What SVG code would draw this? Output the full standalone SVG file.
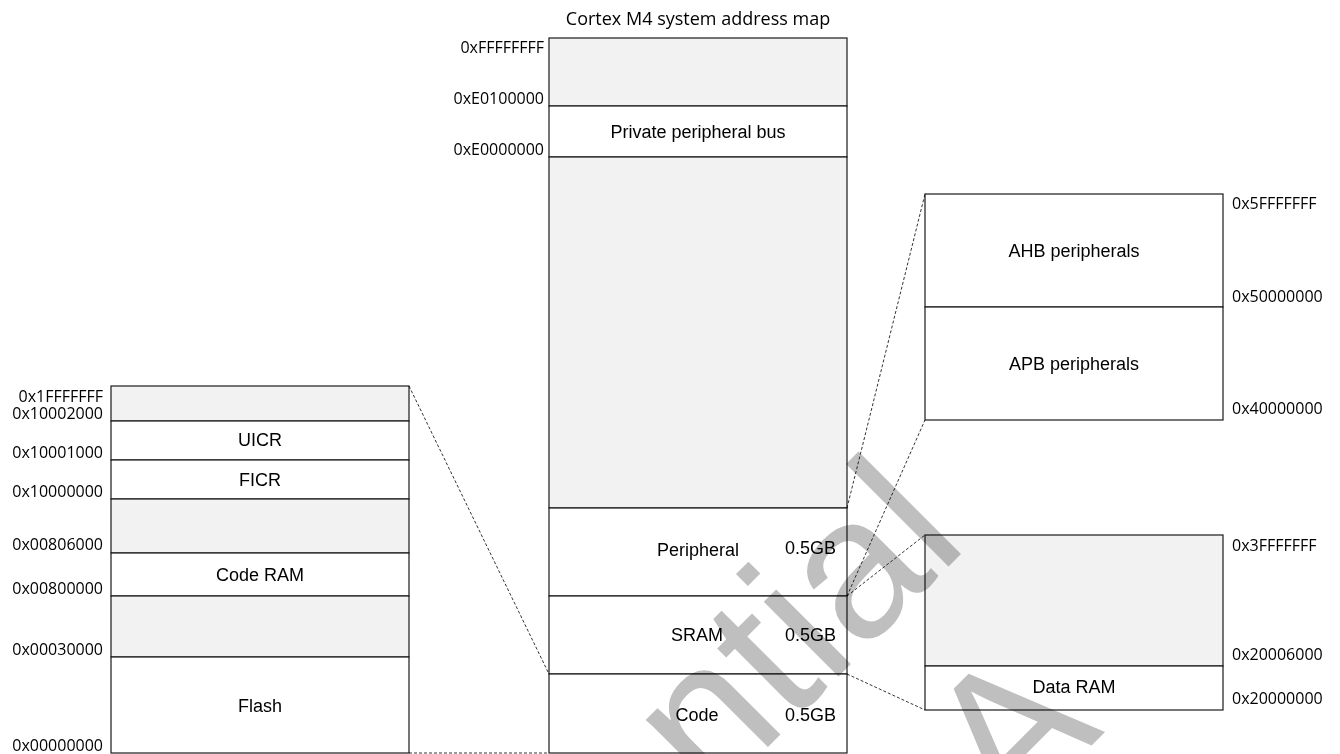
<svg xmlns="http://www.w3.org/2000/svg" width="1340" height="754" viewBox="0 0 1340 754">
<style>
.w{fill:#FFFFFF;stroke:#1a1a1a;stroke-width:1.2}
.g{fill:#F2F2F2;stroke:#1a1a1a;stroke-width:1.2}
.lbl{font-family:"Liberation Sans",Arial,sans-serif;font-size:18px;fill:#000;text-anchor:middle}
.sz{font-family:"Liberation Sans",Arial,sans-serif;font-size:18px;fill:#000;text-anchor:end}
.addr{font-family:"Open Sans","Noto Sans",sans-serif;font-size:16px;fill:#000}
.ae{text-anchor:end}
.title{font-family:"Open Sans","Noto Sans",sans-serif;font-size:18px;fill:#000;text-anchor:middle}
.conn{stroke:#000;stroke-width:0.8;stroke-dasharray:3 2;fill:none}
.wm{font-family:"Liberation Sans",Arial,sans-serif;font-size:200px;fill:#BFBFBF}
</style>
<rect x="0" y="0" width="1340" height="754" fill="#FFFFFF"/>
<text class="title" x="698" y="25">Cortex M4 system address map</text>

<g id="system-map">
  <g id="sys-top"><rect class="g" x="549" y="38" width="298" height="68"/></g>
  <g id="sys-ppb"><rect class="w" x="549" y="106" width="298" height="51"/><text class="lbl" x="698" y="138">Private peripheral bus</text></g>
  <g id="sys-mid"><rect class="g" x="549" y="157" width="298" height="351"/></g>
  <g id="sys-peripheral"><rect class="w" x="549" y="508" width="298" height="88"/><text class="lbl" x="698" y="556">Peripheral</text><text class="sz" x="836" y="554">0.5GB</text></g>
  <g id="sys-sram"><rect class="w" x="549" y="596" width="298" height="78"/><text class="lbl" x="697" y="641">SRAM</text><text class="sz" x="836" y="641">0.5GB</text></g>
  <g id="sys-code"><rect class="w" x="549" y="674" width="298" height="79"/><text class="lbl" x="697" y="721">Code</text><text class="sz" x="836" y="721">0.5GB</text></g>
  <g id="sys-addr">
    <text class="addr ae" x="544" y="53">0xFFFFFFFF</text>
    <text class="addr ae" x="544" y="104">0xE0100000</text>
    <text class="addr ae" x="544" y="155">0xE0000000</text>
  </g>
</g>

<g id="code-map">
  <g id="code-top"><rect class="g" x="111" y="386" width="298" height="35"/></g>
  <g id="code-uicr"><rect class="w" x="111" y="421" width="298" height="39"/><text class="lbl" x="260" y="446">UICR</text></g>
  <g id="code-ficr"><rect class="w" x="111" y="460" width="298" height="39"/><text class="lbl" x="260" y="486">FICR</text></g>
  <g id="code-gap1"><rect class="g" x="111" y="499" width="298" height="54"/></g>
  <g id="code-ram"><rect class="w" x="111" y="553" width="298" height="43"/><text class="lbl" x="260" y="581">Code RAM</text></g>
  <g id="code-gap2"><rect class="g" x="111" y="596" width="298" height="61"/></g>
  <g id="code-flash"><rect class="w" x="111" y="657" width="298" height="96"/><text class="lbl" x="260" y="712">Flash</text></g>
  <g id="code-addr">
    <text class="addr ae" x="103" y="402">0x1FFFFFFF</text>
    <text class="addr ae" x="103" y="419">0x10002000</text>
    <text class="addr ae" x="103" y="458">0x10001000</text>
    <text class="addr ae" x="103" y="497">0x10000000</text>
    <text class="addr ae" x="103" y="550">0x00806000</text>
    <text class="addr ae" x="103" y="594">0x00800000</text>
    <text class="addr ae" x="103" y="655">0x00030000</text>
    <text class="addr ae" x="103" y="751">0x00000000</text>
  </g>
</g>

<g id="periph-map">
  <g id="periph-ahb"><rect class="w" x="925" y="194" width="298" height="113"/><text class="lbl" x="1074" y="257">AHB peripherals</text></g>
  <g id="periph-apb"><rect class="w" x="925" y="307" width="298" height="113"/><text class="lbl" x="1074" y="370">APB peripherals</text></g>
  <g id="periph-addr">
    <text class="addr" x="1232" y="209">0x5FFFFFFF</text>
    <text class="addr" x="1232" y="302">0x50000000</text>
    <text class="addr" x="1232" y="414">0x40000000</text>
  </g>
</g>

<g id="sram-map">
  <g id="sram-top"><rect class="g" x="925" y="535" width="298" height="131"/></g>
  <g id="sram-data"><rect class="w" x="925" y="666" width="298" height="44"/><text class="lbl" x="1074" y="693">Data RAM</text></g>
  <g id="sram-addr">
    <text class="addr" x="1232" y="551">0x3FFFFFFF</text>
    <text class="addr" x="1232" y="660">0x20006000</text>
    <text class="addr" x="1232" y="704">0x20000000</text>
  </g>
</g>

<g id="connectors">
  <line class="conn" x1="409" y1="386" x2="549" y2="674"/>
  <line class="conn" x1="409" y1="753" x2="549" y2="753"/>
  <line class="conn" x1="847" y1="508" x2="925" y2="194"/>
  <line class="conn" x1="847" y1="596" x2="925" y2="420"/>
  <line class="conn" x1="847" y1="596" x2="925" y2="535"/>
  <line class="conn" x1="847" y1="674" x2="925" y2="710"/>
</g>

<g id="watermark" style="mix-blend-mode:multiply">
  <text class="wm" transform="translate(711,804) rotate(-45)">ntial</text>
  <text class="wm" transform="translate(1011,826) rotate(-45)">A</text>
</g>
</svg>
